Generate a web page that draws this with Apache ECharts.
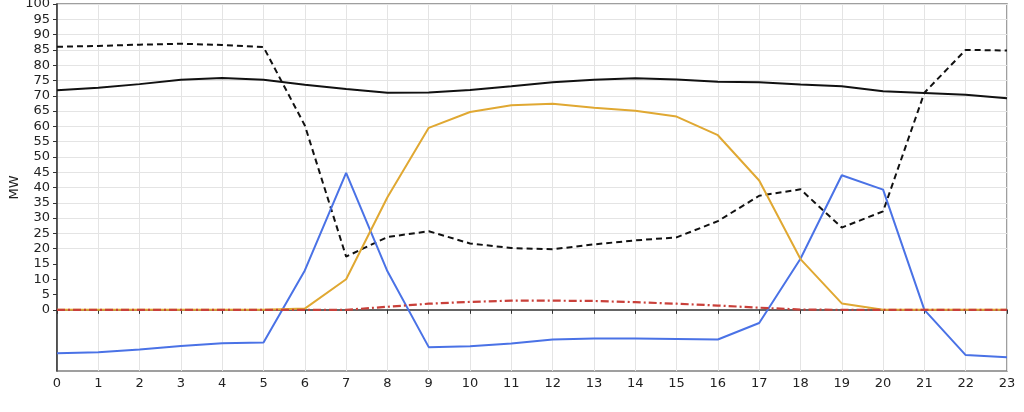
<!DOCTYPE html>
<html>
<head>
<meta charset="utf-8">
<script src="https://cdn.jsdelivr.net/npm/echarts@6/dist/echarts.min.js"></script>
<style>
  html, body { margin: 0; padding: 0; background: #fff; }
  #chart { width: 1024px; height: 412px; }
</style>
</head>
<body>
<div id="chart"></div>
<script>
  const hours = ["0","1","2","3","4","5","6","7","8","9","10","11","12","13","14","15","16","17","18","19","20","21","22","23"];

  // solid black
  const loadLine = [71.8, 72.6, 73.8, 75.2, 75.8, 75.2, 73.6, 72.2, 71.0, 71.1, 71.9, 73.1, 74.4, 75.2, 75.7, 75.3, 74.6, 74.4, 73.7, 73.1, 71.5, 70.9, 70.3, 69.2];
  // dashed black
  const netLine = [86.0, 86.3, 86.7, 87.0, 86.6, 85.9, 60.3, 17.4, 23.8, 25.7, 21.7, 20.2, 19.8, 21.4, 22.7, 23.7, 29.0, 37.3, 39.4, 26.9, 32.2, 71.0, 85.0, 84.8];
  // orange
  const solarLine = [0, 0, 0, 0, 0, 0, 0.4, 10.0, 36.8, 59.5, 64.7, 66.9, 67.4, 66.1, 65.1, 63.2, 57.1, 42.3, 16.6, 2.1, 0, 0, 0, 0];
  // blue
  const storageLine = [-14.2, -13.9, -13.0, -11.8, -10.9, -10.7, 12.9, 44.8, 12.6, -12.2, -11.9, -11.0, -9.7, -9.4, -9.4, -9.5, -9.7, -4.3, 16.7, 44.0, 39.3, 0, -14.8, -15.5];
  // red dash-dot
  const windLine = [0, 0, 0, 0, 0, 0, 0, 0, 1.0, 2.0, 2.6, 3.0, 3.0, 2.9, 2.5, 2.0, 1.4, 0.7, 0.1, 0, 0, 0, 0, 0];

  const yMin = -20, yMax = 100, yStep = 5;
  const yTicks = [0, 5, 10, 15, 20, 25, 30, 35, 40, 45, 50, 55, 60, 65, 70, 75, 80, 85, 90, 95, 100];

  const font = "DejaVu Sans";
  const gridColors = [];
  for (let v = yMin; v <= yMax; v += yStep) gridColors.push(v < 0 ? "rgba(0,0,0,0)" : "#e4e4e4");

  const chart = echarts.init(document.getElementById("chart"), null, { renderer: "canvas" });

  function line(data, color, type, width, z) {
    return {
      type: "line",
      data: data,
      symbol: "none",
      z: z,
      lineStyle: { color: color, width: width, type: type },
      animation: false
    };
  }

  chart.setOption({
    animation: false,
    grid: {
      left: 57, right: 17, top: 4, bottom: 41,
      containLabel: false,
      outerBoundsMode: "none",
      show: true, borderColor: "#808080", borderWidth: 1.5
    },
    xAxis: {
      type: "category",
      data: hours,
      boundaryGap: false,
      axisLine: { lineStyle: { color: "#333", width: 1.5 } },
      axisTick: { show: true, length: 4, lineStyle: { color: "#333" }, alignWithLabel: true },
      axisLabel: { color: "#222", fontFamily: font, fontSize: 13, margin: 6, interval: 0 },
      splitLine: { show: true, lineStyle: { color: "#e4e4e4", width: 1 } }
    },
    yAxis: {
      type: "value",
      min: yMin, max: yMax, interval: yStep,
      name: "MW",
      nameLocation: "middle",
      nameGap: 36,
      nameMoveOverlap: false,
      nameTextStyle: { color: "#222", fontFamily: font, fontSize: 13 },
      axisLine: { show: true, lineStyle: { color: "#333", width: 1.5 } },
      axisTick: { show: true, length: 4, customValues: yTicks, lineStyle: { color: "#333" } },
      axisLabel: {
        color: "#222", fontFamily: font, fontSize: 13, margin: 7,
        customValues: yTicks
      },
      splitLine: { show: true, lineStyle: { color: gridColors, width: 1 } }
    },
    series: [
      line(loadLine, "#111111", "solid", 2, 3),
      line(netLine, "#111111", [6, 4], 2, 3),
      line(storageLine, "#4a72e6", "solid", 2, 4),
      line(solarLine, "#e0a832", "solid", 2, 5),
      line(windLine, "#c9403a", [8, 3, 2, 3], 2.2, 6)
    ]
  });
</script>
</body>
</html>
